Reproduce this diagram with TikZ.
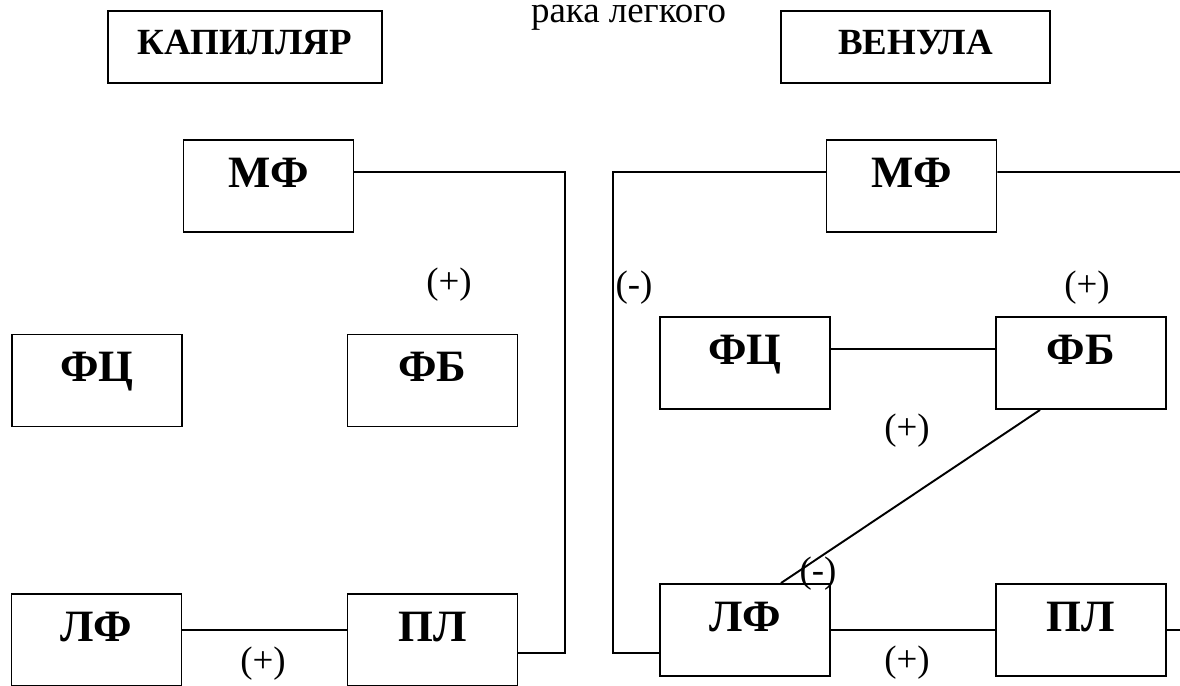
\documentclass[tikz,border=0pt]{standalone}
\usepackage{fontspec}
\setmainfont{Liberation Serif}
\begin{document}
\begin{tikzpicture}[x=0.02cm,y=-0.02cm,line width=1.1pt,
    cell/.style={draw,rectangle,inner sep=0pt,minimum width=3.4cm,
        text height=0.94cm,text depth=0.9cm,
        font=\fontsize{25.5}{28}\selectfont\bfseries},
    vessel/.style={draw,rectangle,inner sep=0pt,
        text height=0.88cm,text depth=0.56cm,
        font=\fontsize{21}{24}\selectfont\bfseries},
    sign/.style={font=\fontsize{21}{24}\selectfont}]

    \useasboundingbox (0,0) rectangle (1180,686);

    \node[sign,anchor=base] (title) at (628.5,23) {рака легкого};

    % vessels
    \node[vessel,minimum width=5.48cm] (kap) at (245,47) {КАПИЛЛЯР};
    \node[vessel,minimum width=5.38cm] (ven) at (915.5,47) {ВЕНУЛА};

    % capillary side
    \node[cell] (mfL) at (268.5,186) {МФ};
    \node[cell] (fcL) at (97,380.5) {ФЦ};
    \node[cell] (fbL) at (432.5,380.5) {ФБ};
    \node[cell] (lfL) at (96.5,640) {ЛФ};
    \node[cell] (plL) at (432.5,640) {ПЛ};

    % venule side
    \node[cell] (mfR) at (911.5,186) {МФ};
    \node[cell] (fcR) at (745,363) {ФЦ};
    \node[cell] (fbR) at (1081,363) {ФБ};
    \node[cell] (lfR) at (745,630) {ЛФ};
    \node[cell] (plR) at (1081,630) {ПЛ};

    \node[sign] (sFbL) at (449,285) {(+)};
    \node[sign] (sFcR) at (634,288) {(-)};
    \node[sign] (sFbR) at (1087,288) {(+)};
    \node[sign] (sMid) at (907,431) {(+)};
    \node[sign] (sLfR) at (818,574) {(-)};
    \node[sign] (sPlR) at (907,663) {(+)};
    \node[sign] (sPlL) at (263,664) {(+)};

    \coordinate (kapBus) at (565,653);
    \coordinate (venBus) at (613,653);
    \coordinate (mfOut) at (1180,172);
    \coordinate (plOut) at (1180,630);

    \draw ([yshift=.28cm]mfL.east) -| (kapBus) -- (kapBus -| plL.east);
    \draw ([yshift=.2cm]lfL.east) -- ([yshift=.2cm]plL.west);

    \draw ([yshift=.28cm]mfR.west) -| (venBus) -- (venBus -| lfR.west);
    \draw ([yshift=.28cm]mfR.east) -- (mfOut);
    \draw ([yshift=.28cm]fcR.east) -- ([yshift=.28cm]fbR.west);
    \draw ([xshift=-.82cm]fbR.south) -- ([xshift=.72cm]lfR.north);
    \draw (lfR) -- (plR);
    \draw (plR.east) -- (plOut);
\end{tikzpicture}
\end{document}
